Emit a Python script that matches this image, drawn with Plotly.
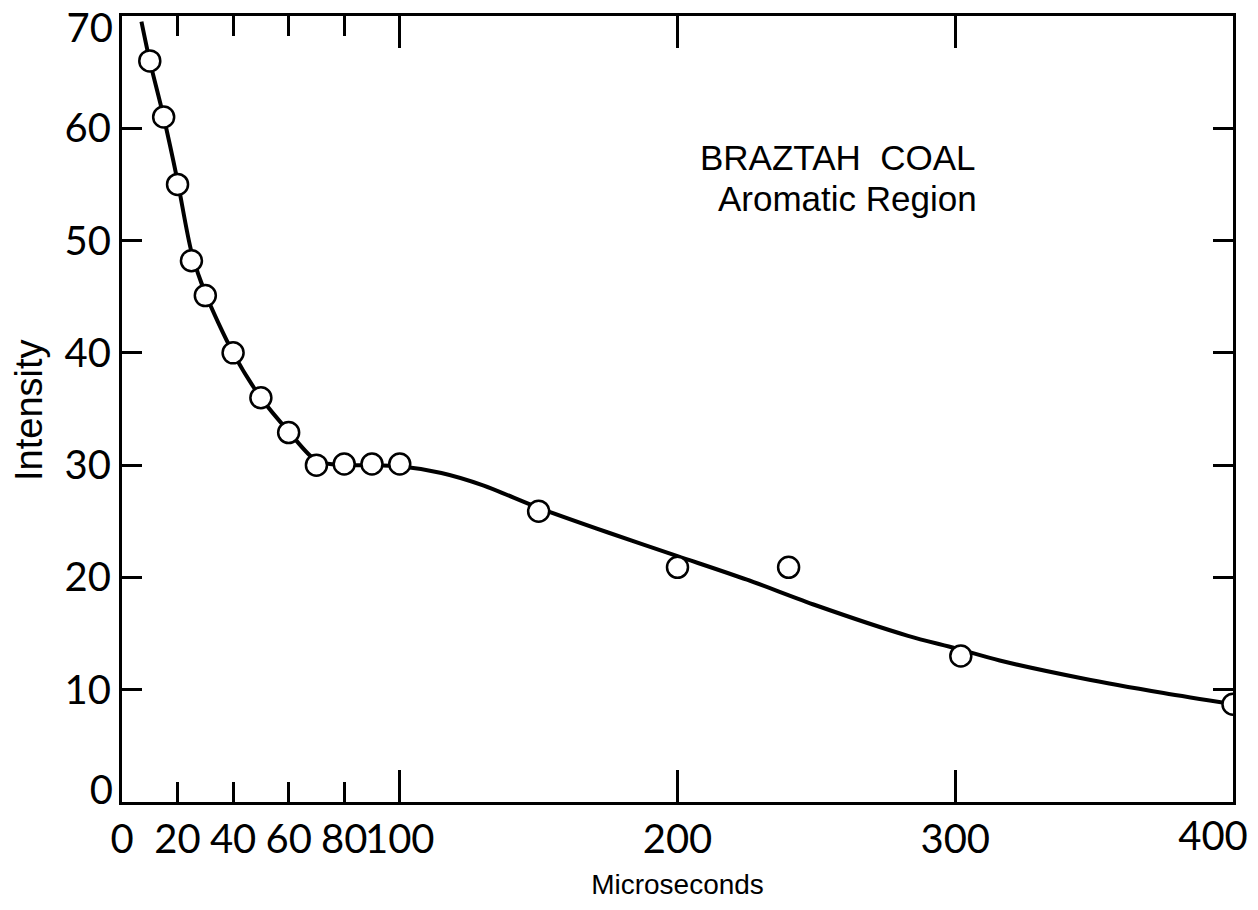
import plotly.graph_objects as go

# measured points (Microseconds, Intensity)
pt_x = [10, 15, 20, 25, 30, 40, 50, 60, 70, 80, 90, 100, 150, 200, 240, 302, 400]
pt_y = [66, 61, 55, 48.2, 45.1, 40, 36, 32.9, 30, 30.1, 30.1, 30.1, 25.9, 20.9, 20.9, 13, 8.7]

# hand-drawn smooth curve
cv_x = [7, 10, 15, 20, 25, 30, 40, 50, 60, 70, 80, 90, 100, 115, 130, 150, 175, 200, 225, 250, 283, 300, 316, 346, 375, 400]
cv_y = [69.5, 66, 61, 55.3, 49, 45.3, 40, 36, 33, 30.4, 30.0, 30.0, 29.9, 29.3, 28.2, 26.2, 24.0, 21.9, 19.8, 17.5, 14.8, 13.7, 12.6, 11.0, 9.7, 8.7]

x_ticks = [0, 20, 40, 60, 80, 100, 200, 300]
x_last_tick = [400]
x_long_ticks = [100, 200, 300]
y_ticks = [10, 20, 30, 40, 50, 60]
y_top_tick = [70]
y_bottom_tick = [0]

FONT = "Lato"
NARROW = "Liberation Sans Narrow, Liberation Sans"
TICKSZ = 40

W, H = 1258, 910
L, R, T, B = 122, 25, 16, 108

fig = go.Figure()
fig.add_trace(go.Scatter(x=cv_x, y=cv_y, mode="lines",
                         line=dict(color="black", width=4, shape="spline", smoothing=0.8),
                         hoverinfo="skip", showlegend=False))
fig.add_trace(go.Scatter(x=pt_x, y=pt_y, mode="markers",
                         marker=dict(symbol="circle", size=21, color="white",
                                     line=dict(color="black", width=2.5)),
                         showlegend=False))
# invisible helper traces so that overlay axes are drawn
for xa, ya in [("x2", "y"), ("x3", "y"), ("x", "y2"), ("x", "y3")]:
    fig.add_trace(go.Scatter(x=[0, 400], y=[0, 0], xaxis=xa, yaxis=ya, mode="markers",
                             marker=dict(opacity=0), hoverinfo="skip", showlegend=False))

common_off = dict(showline=False, showgrid=False, zeroline=False, automargin=False)

fig.update_layout(
    width=W, height=H,
    margin=dict(l=L, r=R, t=T, b=B, autoexpand=False),
    paper_bgcolor="white", plot_bgcolor="white",
    font=dict(family=FONT, color="black"),
    xaxis=dict(range=[0, 400], tickvals=x_ticks + x_last_tick,
               ticktext=[str(v) for v in x_ticks] + [""],
               ticks="inside", ticklen=20, tickwidth=2.5, tickcolor="black",
               showline=True, linecolor="black", linewidth=3, mirror="ticks",
               showgrid=False, zeroline=False, ticklabeloverflow="allow",
               tickangle=0, automargin=False,
               tickfont=dict(size=TICKSZ, family=FONT),
               title=dict(text="Microseconds", font=dict(size=28, family=NARROW), standoff=14)),
    xaxis2=dict(range=[0, 400], overlaying="x", side="bottom", anchor="y",
                tickvals=x_long_ticks, showticklabels=False,
                ticks="inside", ticklen=32, tickwidth=2.5, tickcolor="black",
                mirror="ticks", **common_off),
    xaxis3=dict(range=[0, 400], overlaying="x", side="bottom", anchor="y",
                tickvals=x_last_tick, ticktext=[str(v) for v in x_last_tick],
                ticks="", ticklabelshift=-20, ticklabelstandoff=7, tickangle=0,
                ticklabeloverflow="allow",
                tickfont=dict(size=TICKSZ, family=FONT), **common_off),
    yaxis=dict(range=[0, 70], tickvals=y_bottom_tick + y_ticks + y_top_tick,
               ticktext=[""] + [str(v) for v in y_ticks] + [""],
               ticks="inside", ticklen=20, tickwidth=2.5, tickcolor="black",
               showline=True, linecolor="black", linewidth=3, mirror="ticks",
               showgrid=False, zeroline=False, ticklabeloverflow="allow",
               automargin=False,
               tickfont=dict(size=TICKSZ, family=FONT)),
    yaxis2=dict(range=[0, 70], overlaying="y", side="left", anchor="x",
                tickvals=y_top_tick, ticktext=[str(v) for v in y_top_tick],
                ticks="", ticklabelshift=12, ticklabelstandoff=8, ticklabeloverflow="allow",
                tickfont=dict(size=TICKSZ, family=FONT), **common_off),
    yaxis3=dict(range=[0, 70], overlaying="y", side="left", anchor="x",
                tickvals=y_bottom_tick, ticktext=[str(v) for v in y_bottom_tick],
                ticks="", ticklabelshift=-12, ticklabelstandoff=8, ticklabeloverflow="allow",
                tickfont=dict(size=TICKSZ, family=FONT), **common_off),
)

pw, ph = W - L - R, H - T - B
def px(xp):
    return (xp - L) / pw
def py(yp):
    return 1 - (yp - T) / ph

fig.add_annotation(text="Intensity", x=px(29), y=py(410), xref="paper", yref="paper",
                   textangle=-90, xanchor="center", yanchor="middle", showarrow=False,
                   font=dict(size=38, family=NARROW, color="black"))
fig.add_annotation(text="BRAZTAH  COAL", x=px(698), y=py(157), xref="paper", yref="paper",
                   xanchor="left", yanchor="middle", showarrow=False,
                   font=dict(size=35, family=NARROW, color="black"))
fig.add_annotation(text="Aromatic Region", x=px(716), y=py(198), xref="paper", yref="paper",
                   xanchor="left", yanchor="middle", showarrow=False,
                   font=dict(size=35, family=NARROW, color="black"))

fig.write_html("out.html")
